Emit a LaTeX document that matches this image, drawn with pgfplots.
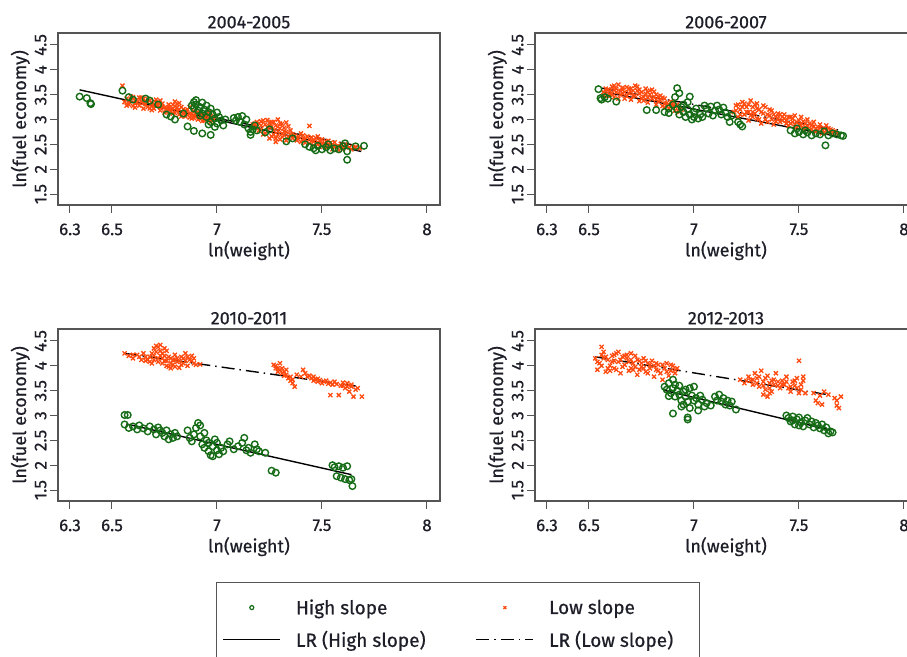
\documentclass[border=0pt]{standalone}
\usepackage{fontspec}
\setmainfont{Fira Sans}[FakeBold=0.6]
\usepackage{pgfplots}
\pgfplotsset{compat=1.18}
\definecolor{hgreen}{RGB}{22,108,22}
\definecolor{lorange}{RGB}{255,75,15}
\definecolor{framegray}{RGB}{85,85,85}
\definecolor{txt}{RGB}{30,30,40}

\pgfplotsset{
  panel/.style={
    scale only axis, width=382pt, height=172pt,
    xmin=6.243, xmax=8.062, ymin=1.28, ymax=4.74,
    xtick={6.3,6.5,7,7.5,8}, xticklabels={6.3,6.5,7,7.5,8},
    ytick={1.5,2,2.5,3,3.5,4,4.5}, yticklabels={1.5,2,2.5,3,3.5,4,4.5},
    tick align=outside, tick pos=left, major tick length=8pt,
    axis line style={framegray, line width=1.5pt},
    every tick/.style={framegray, line width=1pt},
    /pgf/number format/assume math mode=true,
    tick label style={font=\fontsize{17}{17}\selectfont, text=txt},
    xticklabel style={yshift=-7pt},
    yticklabel style={rotate=90, anchor=south, xshift=0pt},
    xlabel={ln(weight)}, ylabel={ln(fuel economy)},
    label style={font=\fontsize{18}{18}\selectfont, text=txt},
    xlabel style={yshift=1pt},
    ylabel style={yshift=-2pt},
    title style={font=\fontsize{18}{18}\selectfont, text=txt, yshift=-5pt},
    legend image code/.code={\draw[##1] (0pt,0pt) -- (57pt,0pt);},
  },
  legmark/.style={legend image code/.code={\draw[mark repeat=2,mark phase=2,##1] plot coordinates {(0pt,0pt)(28.5pt,0pt)(57pt,0pt)};}},
  gpts/.style={only marks, mark=o, mark size=3.3pt, line width=1.4pt, hgreen, forget plot},
  opts/.style={only marks, mark=x, mark size=2.9pt, line width=1.3pt, lorange, forget plot},
  hline/.style={black, line width=1.4pt, forget plot},
  lline/.style={black, line width=1.4pt, dash pattern=on 13pt off 5pt on 1.5pt off 5pt, forget plot},
}

\begin{document}
\begin{tikzpicture}
\useasboundingbox (0pt,0pt) rectangle (907pt,656pt);

% ---------------- 2004-2005
\begin{axis}[panel, at={(58pt,451pt)}, anchor=south west, title={2004-2005}]
\addplot[opts] coordinates {
(6.55,3.68)(6.56,3.35)(6.57,3.42)(6.58,3.30)(6.59,3.38)(6.60,3.45)(6.61,3.33)(6.62,3.40)(6.63,3.28)(6.64,3.36)
(6.65,3.42)(6.66,3.31)(6.67,3.25)(6.68,3.38)(6.69,3.30)(6.70,3.22)(6.71,3.35)(6.72,3.28)(6.73,3.18)(6.74,3.32)
(6.75,3.24)(6.76,3.15)(6.77,3.30)(6.78,3.21)(6.79,3.12)(6.80,3.27)(6.81,3.18)(6.82,3.10)(6.83,3.25)(6.84,3.14)
(6.85,3.06)(6.86,3.20)(6.87,3.12)(6.88,3.02)(6.89,3.17)(6.90,3.08)(6.91,3.00)(6.92,3.14)(6.93,3.05)(6.94,2.98)
(6.95,3.10)(6.96,3.02)(6.97,3.07)(6.98,2.97)(6.58,3.36)(6.62,3.34)(6.66,3.37)(6.70,3.29)(6.74,3.26)(6.78,3.16)
(6.82,3.20)(6.86,3.09)(6.90,3.13)(6.94,3.04)(6.64,3.44)(6.68,3.22)(6.72,3.34)(6.76,3.22)(6.80,3.13)(6.84,3.21)
(6.88,3.11)(6.92,3.02)(6.60,3.27)(6.96,3.15)(6.71,3.40)(6.79,3.30)(6.87,3.25)(6.80,3.36)(6.82,3.33)
(6.57,3.28)(6.59,3.46)(6.61,3.24)(6.63,3.44)(6.65,3.22)(6.67,3.41)(6.69,3.19)(6.71,3.27)(6.73,3.38)(6.75,3.14)
(6.77,3.20)(6.79,3.22)(6.81,3.31)(6.83,3.06)(6.85,3.18)(6.87,3.04)(6.89,3.08)(6.91,3.12)(6.93,2.97)(6.95,3.01)
(6.97,2.95)(6.99,3.05)(6.61,3.38)(6.65,3.33)(6.69,3.35)(6.73,3.24)(6.77,3.25)(6.81,3.24)(6.85,3.13)(6.89,3.03)
(6.93,3.10)(6.97,3.00)
(7.17,2.90)(7.18,2.83)(7.19,2.95)(7.20,2.78)(7.21,2.88)(7.22,2.98)(7.23,2.72)(7.24,2.84)(7.25,2.93)(7.26,2.66)
(7.27,2.78)(7.28,2.88)(7.29,3.00)(7.30,2.60)(7.31,2.72)(7.32,2.83)(7.33,2.94)(7.34,2.65)(7.35,2.78)(7.22,2.70)
(7.25,2.62)(7.28,2.55)(7.31,2.91)(7.26,2.86)(7.29,2.69)(7.33,2.75)(7.24,2.99)(7.20,2.92)(7.27,2.95)(7.30,2.82)(7.36,2.70)
(7.18,2.92)(7.19,2.86)(7.21,2.80)(7.23,2.90)(7.24,2.76)(7.26,2.95)(7.27,2.70)(7.28,2.62)(7.29,2.85)(7.30,2.92)
(7.31,2.65)(7.32,2.76)(7.33,2.58)(7.34,2.86)(7.35,2.70)(7.36,2.62)(7.21,2.96)(7.25,2.86)(7.29,2.76)(7.32,2.68)
(7.37,2.68)(7.38,2.58)(7.40,2.72)(7.41,2.62)(7.42,2.53)(7.43,2.66)(7.44,2.87)(7.45,2.57)(7.46,2.48)(7.47,2.63)
(7.48,2.54)(7.49,2.45)(7.50,2.60)(7.51,2.51)(7.52,2.43)(7.53,2.57)(7.54,2.48)(7.55,2.40)(7.56,2.54)(7.57,2.46)
(7.58,2.38)(7.59,2.51)(7.60,2.44)(7.62,2.48)(7.65,2.45)(7.68,2.42)(7.39,2.65)(7.44,2.60)(7.48,2.66)(7.52,2.56)(7.55,2.50)
(7.38,2.63)(7.40,2.55)(7.42,2.60)(7.44,2.52)(7.46,2.56)(7.48,2.50)(7.50,2.52)(7.52,2.48)(7.54,2.53)(7.56,2.45)
(7.58,2.46)(7.60,2.40)(7.61,2.50)(7.63,2.44)(7.64,2.40)(7.66,2.44)(7.41,2.68)(7.45,2.64)(7.49,2.58)(7.53,2.46)
};
\addplot[gpts] coordinates {
(6.346,3.46)(6.38,3.43)(6.397,3.33)(6.40,3.31)(6.55,3.58)(6.58,3.45)(6.60,3.40)(6.66,3.42)(6.68,3.38)(6.72,3.30)
(6.76,3.10)(6.78,3.06)(6.80,3.00)(6.84,3.12)
(6.88,3.28)(6.89,3.22)(6.90,3.39)(6.90,3.30)(6.91,3.18)(6.92,3.25)(6.93,3.34)(6.93,3.12)(6.94,3.20)(6.95,3.28)
(6.95,3.05)(6.96,3.15)(6.97,3.22)(6.97,2.95)(6.98,3.10)(6.99,3.02)(7.00,3.14)(7.00,2.92)(7.01,3.05)(7.02,2.98)
(7.03,2.88)(7.04,3.00)(6.96,2.90)(6.99,2.85)(6.92,3.08)(6.89,3.35)
(6.86,2.86)(6.89,2.77)(6.93,2.72)(6.97,2.69)
(7.08,3.03)(7.09,2.98)(7.10,3.05)(7.11,2.95)(7.12,3.07)(7.13,2.90)(7.14,3.00)(7.15,2.82)(7.16,2.75)(7.16,2.69)
(7.17,2.80)(7.18,2.88)(7.19,2.78)(7.23,2.74)(7.25,2.80)(7.33,2.56)(7.36,2.62)
(7.42,2.50)(7.44,2.45)(7.46,2.42)(7.48,2.47)(7.50,2.40)(7.52,2.44)(7.54,2.38)(7.56,2.42)(7.58,2.40)(7.60,2.46)
(7.61,2.52)(7.62,2.36)(7.62,2.19)(7.66,2.46)(7.70,2.47)(7.47,2.38)(7.53,2.50)
};
\addplot[hline] coordinates {(6.346,3.596)(7.687,2.357)};
\addplot[lline] coordinates {(6.552,3.395)(7.687,2.457)};
\end{axis}

% ---------------- 2006-2007
\begin{axis}[panel, at={(535pt,451pt)}, anchor=south west, title={2006-2007}]
\addplot[opts] coordinates {
(6.57,3.55)(6.58,3.62)(6.59,3.48)(6.60,3.58)(6.61,3.66)(6.62,3.45)(6.63,3.55)(6.64,3.70)(6.65,3.50)(6.66,3.60)
(6.67,3.42)(6.68,3.65)(6.69,3.53)(6.70,3.40)(6.71,3.58)(6.72,3.48)(6.73,3.66)(6.74,3.37)(6.75,3.55)(6.76,3.45)
(6.77,3.62)(6.78,3.34)(6.79,3.50)(6.80,3.42)(6.81,3.56)(6.82,3.30)(6.83,3.46)(6.84,3.38)(6.85,3.27)(6.86,3.42)
(6.87,3.33)(6.88,3.22)(6.89,3.36)(6.90,3.28)(6.91,3.18)(6.92,3.30)(6.93,3.22)(6.62,3.60)(6.66,3.52)(6.70,3.62)
(6.74,3.52)(6.78,3.55)(6.82,3.40)(6.86,3.32)(6.64,3.42)(6.72,3.68)(6.76,3.38)(6.80,3.60)(6.84,3.48)(6.88,3.30)
(6.68,3.47)(6.60,3.50)
(6.57,3.48)(6.59,3.60)(6.61,3.52)(6.63,3.62)(6.65,3.58)(6.67,3.55)(6.69,3.62)(6.71,3.47)(6.73,3.58)(6.75,3.43)
(6.77,3.52)(6.79,3.58)(6.81,3.46)(6.83,3.36)(6.85,3.44)(6.87,3.27)(6.89,3.25)(6.91,3.26)(6.93,3.15)(6.58,3.52)
(6.62,3.68)(6.66,3.64)(6.70,3.55)(6.74,3.60)(6.78,3.44)(6.82,3.50)(6.86,3.24)(6.90,3.35)(6.94,3.20)
(7.19,3.15)(7.20,3.28)(7.21,3.05)(7.22,3.20)(7.23,3.35)(7.24,3.10)(7.25,3.25)(7.26,2.98)(7.27,3.38)(7.28,3.15)
(7.29,3.30)(7.30,3.02)(7.31,3.20)(7.32,2.92)(7.33,3.12)(7.34,3.25)(7.35,2.95)(7.36,3.08)(7.37,3.18)(7.38,2.90)
(7.39,3.05)(7.40,3.12)(7.41,2.95)(7.42,3.05)(7.24,3.32)(7.28,3.05)(7.30,3.22)(7.34,3.00)(7.26,3.15)
(7.20,3.18)(7.21,3.30)(7.22,3.10)(7.23,3.25)(7.25,3.15)(7.26,3.30)(7.27,3.08)(7.28,3.25)(7.29,3.12)(7.30,3.32)
(7.31,3.00)(7.32,3.15)(7.33,3.28)(7.35,3.10)(7.36,3.20)(7.37,3.00)(7.38,3.10)(7.39,2.96)(7.40,3.02)(7.41,3.10)(7.42,2.98)
(7.43,3.10)(7.44,2.98)(7.45,2.88)(7.46,3.05)(7.47,2.95)(7.48,3.08)(7.49,2.85)(7.50,2.98)(7.51,3.05)(7.52,2.80)
(7.53,2.92)(7.54,3.00)(7.55,2.78)(7.56,2.88)(7.57,2.95)(7.58,2.75)(7.59,2.85)(7.60,2.90)(7.61,2.72)(7.62,2.82)
(7.63,2.88)(7.64,2.74)(7.65,2.80)(7.67,2.76)(7.68,2.72)(7.46,2.92)(7.50,2.90)(7.54,2.86)(7.58,2.82)
(7.43,3.02)(7.44,2.92)(7.45,3.05)(7.47,3.02)(7.48,2.90)(7.49,2.95)(7.51,2.88)(7.52,2.96)(7.53,2.84)(7.55,2.92)
(7.56,2.80)(7.57,2.86)(7.59,2.78)(7.60,2.84)(7.61,2.80)(7.63,2.78)(7.64,2.82)(7.66,2.78)(7.66,2.72)(7.62,2.74)
};
\addplot[gpts] coordinates {
(6.545,3.61)(6.555,3.43)(6.56,3.40)(6.575,3.45)(6.59,3.42)(6.63,3.36)(6.775,3.19)(6.82,3.19)(6.86,3.15)(6.88,3.13)(6.88,3.22)
(6.90,3.30)(6.91,3.45)(6.92,3.63)(6.93,3.53)(6.92,3.20)(6.93,3.10)(6.94,3.25)(6.95,3.15)(6.96,3.05)(6.97,3.20)
(6.98,3.46)(6.98,3.10)(6.99,3.00)(7.00,3.15)(7.00,3.05)(7.01,3.22)(7.02,3.02)(7.03,3.10)(7.04,3.05)(6.95,3.30)(6.97,3.35)
(7.05,3.28)(7.06,3.22)(7.07,3.12)(7.08,3.26)(7.10,3.18)(7.11,3.28)(7.12,3.20)(7.13,3.10)(7.14,3.24)(7.15,3.14)
(7.16,3.05)(7.17,2.95)(7.18,3.08)(7.21,2.95)(7.22,2.90)(7.23,2.86)(7.09,3.08)
(7.46,2.78)(7.48,2.72)(7.50,2.75)(7.52,2.70)(7.54,2.74)(7.56,2.68)(7.58,2.72)(7.60,2.70)(7.62,2.76)(7.64,2.68)
(7.66,2.72)(7.68,2.70)(7.70,2.68)(7.71,2.67)(7.49,2.82)(7.53,2.78)(7.626,2.48)
};
\addplot[hline] coordinates {(6.561,3.562)(7.686,2.658)};
\addplot[lline] coordinates {(6.561,3.63)(7.686,2.79)};
\end{axis}

% ---------------- 2010-2011
\begin{axis}[panel, at={(58pt,155pt)}, anchor=south west, title={2010-2011},
  legend columns=2,
  legend style={at={(axis description cs:0.4136,-0.47)}, anchor=north west,
    draw=framegray, line width=1.2pt, fill=white,
    font=\fontsize{19}{19}\selectfont, text=txt,
    row sep=11pt, inner xsep=6pt, inner ysep=15pt,
    /tikz/every even column/.append style={column sep=48pt},
    /tikz/every odd column/.append style={column sep=13pt}},
  legend cell align=left]
\addlegendimage{only marks, mark=o, mark size=2pt, line width=1.2pt, hgreen, legmark}
\addlegendentry{High slope}
\addlegendimage{only marks, mark=x, mark size=2pt, line width=1.2pt, lorange, legmark}
\addlegendentry{Low slope}
\addlegendimage{black, line width=1.4pt}
\addlegendentry{LR (High slope)}
\addlegendimage{black, line width=1.4pt, dash pattern=on 13pt off 5pt on 1.5pt off 5pt}
\addlegendentry{LR (Low slope)\rule{18pt}{0pt}}
\addplot[opts] coordinates {
(6.56,4.25)(6.58,4.20)(6.60,4.15)(6.62,4.22)(6.64,4.12)(6.66,4.18)(6.68,4.08)(6.69,4.25)(6.70,4.35)(6.71,4.40)
(6.72,4.15)(6.73,4.30)(6.74,4.05)(6.75,4.20)(6.76,4.10)(6.77,3.98)(6.78,4.15)(6.79,4.02)(6.80,4.22)(6.81,4.08)
(6.82,3.96)(6.83,4.18)(6.84,4.05)(6.85,4.25)(6.86,4.00)(6.87,4.12)(6.88,4.20)(6.89,4.05)(6.90,4.02)(6.92,4.03)
(6.72,4.38)(6.74,4.25)(6.76,4.30)(6.78,3.95)(6.70,4.12)(6.68,4.18)(6.80,4.12)(6.84,4.15)(6.66,4.10)
(6.60,4.22)(6.63,4.18)(6.65,4.25)(6.67,4.12)(6.69,4.05)(6.70,4.20)(6.71,4.28)(6.72,4.08)(6.73,4.20)(6.74,4.15)
(6.75,4.10)(6.76,4.00)(6.77,4.18)(6.78,4.05)(6.79,4.12)(6.80,3.98)(6.81,4.15)(6.82,4.10)(6.83,4.02)(6.85,4.10)
(6.86,4.18)(6.88,4.10)(6.89,4.15)(6.75,4.35)(6.73,4.42)
(7.27,4.02)(7.28,3.95)(7.29,3.88)(7.30,4.05)(7.31,3.85)(7.32,3.80)(7.33,3.92)(7.34,3.75)(7.35,3.70)(7.36,3.65)
(7.37,3.58)(7.38,3.82)(7.40,3.78)(7.41,3.92)(7.42,3.85)(7.44,3.80)(7.45,3.75)(7.47,3.72)(7.48,3.68)(7.49,3.71)
(7.50,3.65)(7.52,3.70)(7.54,3.41)(7.55,3.62)(7.56,3.68)(7.58,3.41)(7.59,3.60)(7.60,3.66)(7.61,3.55)(7.62,3.65)
(7.63,3.48)(7.64,3.58)(7.65,3.38)(7.66,3.52)(7.69,3.38)(7.46,3.78)(7.53,3.64)
(7.28,4.00)(7.29,3.95)(7.30,3.92)(7.31,3.95)(7.32,3.88)(7.33,3.82)(7.35,3.78)(7.36,3.72)(7.43,3.78)(7.46,3.70)
(7.48,3.74)(7.51,3.68)(7.54,3.66)(7.57,3.63)(7.60,3.60)(7.62,3.58)(7.64,3.62)(7.67,3.55)
};
\addplot[gpts] coordinates {
(6.56,3.01)(6.575,3.01)(6.56,2.82)(6.58,2.75)(6.60,2.78)(6.62,2.72)(6.63,2.80)(6.65,2.74)(6.67,2.68)(6.68,2.78)
(6.70,2.72)(6.71,2.62)(6.72,2.76)(6.73,2.70)(6.74,2.65)(6.75,2.58)(6.76,2.70)(6.77,2.52)(6.78,2.62)(6.79,2.55)
(6.80,2.65)(6.81,2.58)
(6.86,2.70)(6.87,2.55)(6.88,2.48)(6.89,2.62)(6.90,2.75)(6.91,2.85)(6.92,2.80)(6.92,2.58)(6.93,2.42)(6.94,2.65)
(6.94,2.35)(6.95,2.50)(6.96,2.28)(6.96,2.45)(6.97,2.20)(6.98,2.38)(6.99,2.52)(7.00,2.30)(7.00,2.45)(7.01,2.22)
(7.02,2.35)(6.98,2.18)(7.03,2.28)
(7.05,2.42)(7.06,2.48)(7.08,2.32)(7.10,2.38)(7.12,2.45)(7.13,2.55)(7.14,2.30)(7.15,2.35)(7.16,2.25)(7.18,2.42)
(7.19,2.32)(7.20,2.28)(7.23,2.25)
(7.26,1.89)(7.28,1.85)
(7.55,2.00)(7.56,1.96)(7.58,1.98)(7.60,1.95)(7.62,1.98)(7.59,1.75)(7.61,1.72)(7.63,1.70)(7.64,1.72)(7.645,1.58)(7.57,1.78)
};
\addplot[hline] coordinates {(6.568,2.83)(7.64,1.81)};
\addplot[lline] coordinates {(6.56,4.25)(7.68,3.58)};
\end{axis}

% ---------------- 2012-2013
\begin{axis}[panel, at={(535pt,155pt)}, anchor=south west, title={2012-2013}]
\addplot[opts] coordinates {
(6.53,4.15)(6.54,3.92)(6.55,4.05)(6.56,4.38)(6.57,4.28)(6.58,3.88)(6.59,4.12)(6.60,4.00)(6.61,4.20)(6.62,3.95)
(6.63,4.25)(6.64,4.08)(6.65,3.85)(6.66,4.18)(6.67,4.02)(6.68,4.22)(6.69,3.90)(6.70,4.12)(6.71,4.05)(6.72,4.20)
(6.73,3.82)(6.74,4.10)(6.75,3.98)(6.76,4.15)(6.77,3.88)(6.78,4.05)(6.79,3.95)(6.80,4.10)(6.81,3.78)(6.82,3.92)
(6.83,4.02)(6.84,3.85)(6.85,3.72)(6.86,3.95)(6.87,4.05)(6.88,3.80)(6.89,3.90)(6.90,4.00)(6.91,3.85)(6.92,3.95)
(6.58,4.18)(6.62,4.10)(6.66,3.98)(6.70,4.25)(6.74,3.92)(6.78,3.85)(6.60,3.90)(6.64,4.28)(6.68,4.15)(6.72,3.98)
(6.54,4.08)(6.56,4.00)(6.57,4.15)(6.59,3.95)(6.61,4.08)(6.63,3.92)(6.65,4.12)(6.67,4.20)(6.69,4.08)(6.71,3.92)
(6.73,4.12)(6.75,4.05)(6.77,4.10)(6.79,4.02)(6.81,4.00)(6.83,3.90)(6.85,4.02)(6.87,3.88)(6.89,4.02)(6.91,3.92)
(6.56,4.22)(6.62,4.22)(6.70,3.95)(6.76,3.95)(6.82,4.05)
(7.22,3.72)(7.24,3.65)(7.26,3.78)(7.27,3.70)(7.28,3.62)(7.29,3.85)(7.30,3.75)(7.31,3.58)(7.32,3.90)(7.33,3.68)
(7.34,3.52)(7.35,3.80)(7.36,3.65)(7.37,3.48)(7.38,3.72)(7.39,3.85)(7.40,3.60)(7.41,3.55)(7.42,3.70)(7.43,3.62)
(7.44,3.78)(7.45,3.55)(7.46,3.48)(7.47,3.68)(7.48,3.60)(7.49,3.75)(7.50,4.10)(7.51,3.52)(7.52,3.78)(7.50,3.45)
(7.35,3.38)(7.33,3.42)(7.53,3.45)
(7.25,3.70)(7.28,3.72)(7.30,3.65)(7.31,3.78)(7.33,3.60)(7.34,3.75)(7.36,3.55)(7.37,3.70)(7.38,3.62)(7.40,3.68)
(7.42,3.62)(7.44,3.68)(7.46,3.58)(7.48,3.70)(7.49,3.55)(7.51,3.62)(7.52,3.70)(7.36,3.45)
(7.57,3.45)(7.58,3.30)(7.59,3.25)(7.60,3.40)(7.61,3.22)(7.62,3.48)(7.64,3.42)(7.67,3.35)(7.68,3.20)(7.69,3.15)
(7.70,3.38)(7.68,3.30)
};
\addplot[gpts] coordinates {
(6.86,3.58)(6.87,3.52)(6.88,3.65)(6.89,3.45)(6.90,3.72)(6.90,3.55)(6.91,3.62)(6.91,3.38)(6.92,3.50)(6.93,3.42)
(6.93,3.60)(6.94,3.30)(6.95,3.48)(6.95,3.22)(6.96,3.38)(6.96,3.52)(6.97,3.28)(6.98,3.55)(6.98,3.15)(6.99,3.40)
(7.00,3.30)(7.00,3.58)(7.01,3.35)(7.02,3.22)(7.03,3.40)(7.04,3.32)(6.88,3.39)(6.90,3.04)(6.97,2.96)(6.97,2.92)
(6.94,3.18)(7.02,3.10)
(7.05,3.18)(7.06,3.25)(7.08,3.20)(7.10,3.38)(7.11,3.30)(7.12,3.42)(7.13,3.28)(7.14,3.35)(7.15,3.22)(7.16,3.30)
(7.17,3.20)(7.20,3.12)(7.18,3.28)
(7.44,3.00)(7.45,2.95)(7.46,2.88)(7.47,2.98)(7.48,2.82)(7.49,2.92)(7.50,2.96)(7.51,2.86)(7.52,2.78)(7.53,2.90)
(7.54,2.95)(7.55,2.82)(7.56,2.88)(7.57,2.76)(7.58,2.85)(7.59,2.80)(7.60,2.74)(7.61,2.82)(7.62,2.70)(7.63,2.76)
(7.64,2.64)(7.65,2.68)(7.66,2.66)(7.50,2.80)(7.47,2.90)
};
\addplot[hline] coordinates {(6.854,3.51)(7.647,2.71)};
\addplot[lline] coordinates {(6.53,4.18)(7.65,3.41)};
\end{axis}
\end{tikzpicture}
\end{document}
